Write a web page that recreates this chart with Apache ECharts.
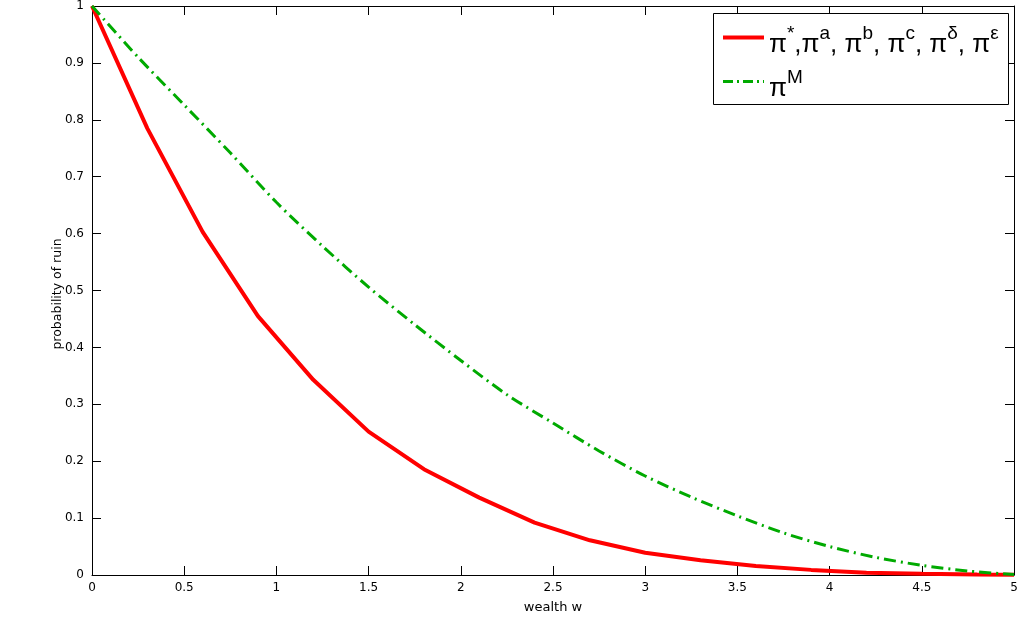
<!DOCTYPE html>
<html>
<head>
<meta charset="utf-8">
<title>probability of ruin</title>
<script src="https://cdn.jsdelivr.net/npm/echarts@6/dist/echarts.min.js"></script>
<style>
    html, body { margin: 0; padding: 0; background: #fff; }
    #chart { width: 1024px; height: 639px; }
</style>
</head>
<body>
<div id="chart"></div>
<script>
    // pi*, pi^a ... pi^eps (they all coincide)
    var wRed = [0, 0.3, 0.6, 0.9, 1.2, 1.5, 1.8, 2.1, 2.4, 2.7, 3.0, 3.3, 3.6, 3.9, 4.2, 4.5, 4.8, 5.0];
    var ruinRed = [1.0, 0.785, 0.603, 0.455, 0.343, 0.252, 0.186, 0.136, 0.092, 0.061, 0.039, 0.026, 0.016, 0.009, 0.004, 0.002, 0.0008, 0.0003];
    // pi^M
    var wGreen = [0, 0.25, 0.5, 0.75, 1.0, 1.25, 1.5, 1.75, 2.0, 2.25, 2.5, 2.75, 3.0, 3.25, 3.5, 3.75, 4.0, 4.25, 4.5, 4.75, 5.0];
    var ruinGreen = [1.0, 0.91, 0.826, 0.742, 0.655, 0.578, 0.506, 0.44, 0.377, 0.317, 0.267, 0.218, 0.174, 0.137, 0.104, 0.074, 0.05, 0.031, 0.017, 0.007, 0.001];
    // axis ranges / tick steps
    var xRange = [0, 5], xStep = 0.5;
    var yRange = [0, 1], yStep = 0.1;

    var axisFont = 'DejaVu Sans, sans-serif';
    var legendFont = 'Liberation Sans, Arial, sans-serif';

    function pairs(xs, ys) {
        return xs.map(function (x, i) { return [x, ys[i]]; });
    }

    function axisBase(min, max, step, pos, showLabel) {
        return {
            type: 'value',
            min: min,
            max: max,
            interval: step,
            position: pos,
            axisLine: { show: true, onZero: false, lineStyle: { color: '#000', width: 1 } },
            axisTick: { show: true, inside: true, length: 9, lineStyle: { color: '#000' } },
            axisLabel: { show: showLabel, color: '#000', fontSize: 12, fontFamily: axisFont },
            splitLine: { show: false }
        };
    }

    var xBottom = axisBase(xRange[0], xRange[1], xStep, 'bottom', true);
    xBottom.axisLabel.margin = 7;
    xBottom.name = 'wealth w';
    xBottom.nameLocation = 'middle';
    xBottom.nameGap = 26;
    xBottom.nameMoveOverlap = false;
    xBottom.nameTextStyle = { color: '#000', fontSize: 13, fontFamily: axisFont };

    var yLeft = axisBase(yRange[0], yRange[1], yStep, 'left', true);
    yLeft.axisLabel.margin = 8;
    yLeft.name = 'probability of ruin';
    yLeft.nameLocation = 'middle';
    yLeft.nameGap = 28;
    yLeft.nameMoveOverlap = false;
    yLeft.nameTextStyle = { color: '#000', fontSize: 12.5, fontFamily: axisFont, padding: [0, 7, 0, 0] };

    var names = {
        opt: '{p|π}{s|*}{p|,π}{s|a}{p|, π}{s|b}{p|, π}{s|c}{p|, π}{s|δ}{p|, π}{s|ε}',
        M: '{p|π}{s|M}'
    };

    var chart = echarts.init(document.getElementById('chart'));
    chart.setOption({
        animation: false,
        backgroundColor: '#fff',
        grid: { left: 92, right: 10, top: 6, bottom: 64, containLabel: false },
        xAxis: [xBottom, axisBase(xRange[0], xRange[1], xStep, 'top', false)],
        yAxis: [yLeft, axisBase(yRange[0], yRange[1], yStep, 'right', false)],
        graphic: [{
            type: 'rect',
            z: 3,
            shape: { x: 713.5, y: 13.5, width: 295, height: 91 },
            style: { fill: '#fff', stroke: '#000', lineWidth: 1 }
        }],
        legend: {
            orient: 'vertical',
            left: 721,
            top: 24,
            z: 5,
            itemWidth: 41,
            itemHeight: 14,
            itemGap: 10,
            padding: 0,
            selectedMode: false,
            itemStyle: { opacity: 0 },
            formatter: function (name) { return names[name]; },
            textStyle: {
                color: '#000',
                padding: [7, 0, 0, 0],
                rich: {
                    p: { fontSize: 26, lineHeight: 34, verticalAlign: 'bottom', fontFamily: legendFont, color: '#000' },
                    s: { fontSize: 19, lineHeight: 21, verticalAlign: 'top', fontFamily: legendFont, color: '#000' }
                }
            },
            itemTextGap: 17,
            data: [
                { name: 'opt', lineStyle: { width: 4, color: '#ff0000' } },
                { name: 'M', lineStyle: { width: 3, color: '#00aa00', type: [10, 4, 2, 4] } }
            ]
        },
        series: [{
            name: 'opt',
            type: 'line',
            xAxisIndex: 0,
            yAxisIndex: 0,
            symbol: 'none',
            data: pairs(wRed, ruinRed),
            lineStyle: { color: '#ff0000', width: 4 },
            itemStyle: { color: '#ff0000' }
        }, {
            name: 'M',
            type: 'line',
            xAxisIndex: 0,
            yAxisIndex: 0,
            symbol: 'none',
            smooth: 0.3,
            data: pairs(wGreen, ruinGreen),
            lineStyle: { color: '#00aa00', width: 3, type: [12, 5, 2, 5] },
            itemStyle: { color: '#00aa00' }
        }]
    });
</script>
</body>
</html>
